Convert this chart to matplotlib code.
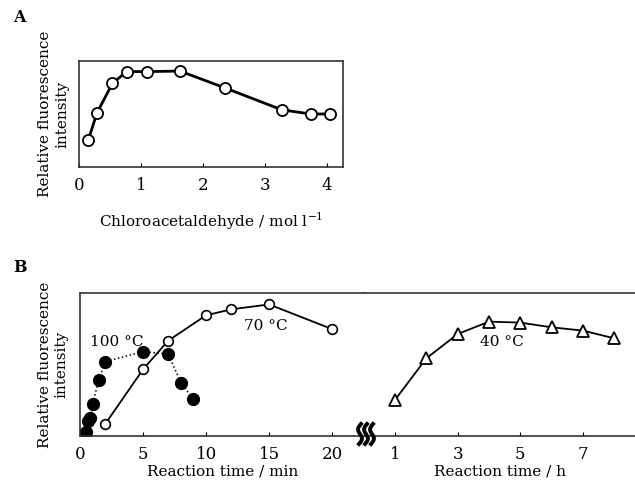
import numpy as np
import matplotlib.pyplot as plt

plt.rcParams['font.family'] = 'DejaVu Serif'
plt.rcParams['font.size'] = 11

# panel A: fluorescence vs chloroacetaldehyde concentration
conc = [0.15, 0.29, 0.54, 0.77, 1.09, 1.63, 2.36, 3.27, 3.74, 4.05]
fl_conc = [25.5, 51, 79, 90, 90, 90.5, 74.5, 54, 50, 50]

# panel B: time courses
t100 = [0, 0.5, 0.67, 0.83, 1, 1.5, 2, 5, 7, 8, 9]
fl100 = [0.7, 3, 10.5, 12.5, 22.5, 39.5, 52, 59, 57.3, 37.3, 25.6]
t70 = [2, 5, 7, 10, 12, 15, 20]
fl70 = [8.4, 46.6, 66.7, 84.4, 88.6, 92, 74.7]
t40 = [1, 2, 3, 4, 5, 6, 7, 8]
fl40 = [25.2, 54.3, 71.3, 80, 79.3, 76, 73.7, 68.3]

W, H = 635, 488
fig = plt.figure(figsize=(W / 100, H / 100), dpi=100)

def box(x0, x1, ytop, ybot):
    return [x0 / W, 1 - ybot / H, (x1 - x0) / W, (ybot - ytop) / H]

def style(ax):
    for s in ax.spines.values():
        s.set_linewidth(1.2)
        s.set_color('#333333')
    ax.tick_params(axis='x', direction='in', length=3, width=0.8, pad=7, labelsize=12)
    ax.set_yticks([])

# ---- A
axA = fig.add_axes(box(79, 343, 61, 167))
axA.plot(conc, fl_conc, '-o', color='k', lw=2, ms=8, mfc='white', mec='k', mew=1.3)
axA.set_xlim(0, 4.26)
axA.set_ylim(0, 100)
axA.set_xticks([0, 1, 2, 3, 4])
style(axA)
axA.set_xlabel('Chloroacetaldehyde / mol l$^{\\mathregular{-1}}$', labelpad=12)
axA.set_ylabel('Relative fluorescence\nintensity', linespacing=1.3, labelpad=7)
fig.text(13 / W, 1 - 22 / H, 'A', fontweight='bold', fontsize=11.5)

# ---- B, minutes part
axB1 = fig.add_axes(box(80, 365, 293, 436))
axB1.plot(t100, fl100, ':o', color='k', lw=1.1, ms=8.5, mfc='k', mec='k')
axB1.plot(t70, fl70, '-o', color='k', lw=1.3, ms=7, mfc='white', mec='k', mew=1.2)
axB1.set_xlim(0, 22.6)
axB1.set_ylim(0, 100)
axB1.set_xticks([0, 5, 10, 15, 20])
style(axB1)
axB1.spines['right'].set_visible(False)
axB1.set_xlabel('Reaction time / min', labelpad=1)
axB1.set_ylabel('Relative fluorescence\nintensity', linespacing=1.3, labelpad=8)
axB1.text(0.8, 63, '100 \u00b0C')
axB1.text(13, 74, '70 \u00b0C')
fig.text(13 / W, 1 - 272 / H, 'B', fontweight='bold', fontsize=11.5)

# ---- B, hours part
axB2 = fig.add_axes(box(365, 635, 293, 436))
axB2.plot(t40, fl40, '-^', color='k', lw=1.3, ms=8, mfc='white', mec='k', mew=1.3)
axB2.set_xlim(0.043, 8.66)
axB2.set_ylim(0, 100)
axB2.set_xticks([1, 3, 5, 7])
style(axB2)
axB2.spines['left'].set_visible(False)
axB2.spines['right'].set_visible(False)
axB2.set_xlabel('Reaction time / h', labelpad=1)
axB2.text(3.7, 63, '40 \u00b0C')

# axis break squiggles
yy = np.linspace(0, 1, 40)
for i in range(3):
    xs = (360 + i * 6 - 2.4 * np.sin(yy * 2 * np.pi) + 2.0 * (0.5 - yy)) / W
    ys = 1 - (424 + yy * 20) / H
    fig.add_artist(plt.Line2D(xs, ys, color='k', lw=2.8, transform=fig.transFigure))

fig.savefig('out.png', dpi=100)
